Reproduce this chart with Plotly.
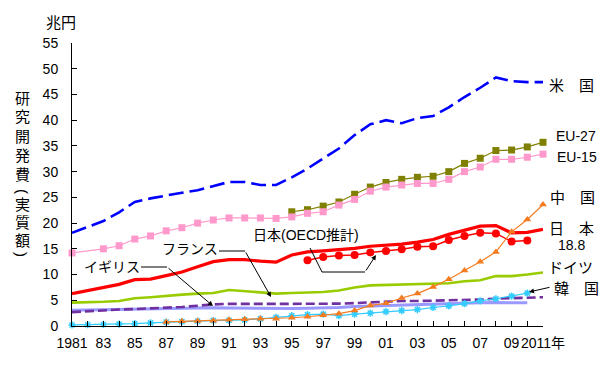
import plotly.graph_objects as go

years = list(range(1981, 2012))

us = [18.1, 19.2, 20.4, 22.1, 24.1, 24.8, 25.4, 25.9, 26.4, 27.2, 28.0, 28.0, 27.4, 27.4, 28.9,
      30.6, 32.6, 34.5, 37.1, 39.2, 40.0, 39.4, 40.4, 40.8, 42.5, 44.5, 46.3, 48.3, 47.6, 47.4, 47.4]

eu27_years = list(range(1995, 2012))
eu27 = [22.2, 22.6, 23.3, 24.1, 25.6, 27.0, 27.9, 28.5, 28.9, 29.1, 30.0, 31.6, 32.6, 34.1, 34.2, 34.8, 35.7]

eu15 = [14.2, None, 15.0, 15.6, 16.9, 17.5, 18.5, 19.1, 20.0, 20.6, 21.0, 21.0, 21.0, 20.9, 21.2,
        21.9, 22.2, 23.5, 24.6, 26.2, 27.0, 27.4, 27.7, 27.7, 28.5, 30.0, 30.9, 32.4, 32.4, 32.8, 33.4]

japan = [6.3, 6.9, 7.5, 8.1, 9.0, 9.1, 9.8, 10.5, 11.5, 12.5, 12.9, 12.9, 12.6, 12.4, 13.8,
         14.4, 14.6, 14.8, 15.1, 15.5, 15.7, 15.9, 16.3, 16.8, 17.8, 18.6, 19.4, 19.5, 18.1, 18.2, 18.8]

japan_oecd_years = list(range(1996, 2011))
japan_oecd = [12.8, 13.4, 13.7, 13.8, 14.3, 14.6, 14.9, 15.4, 15.5, 16.7, 17.5, 18.1, 18.0, 16.4, 16.6]

china_years = list(range(1987, 2012))
china = [0.8, 0.9, 0.95, 1.0, 1.2, 1.3, 1.4, 1.4, 1.6, 1.8, 2.1, 2.4, 3.0, 4.0, 4.4,
         5.45, 6.3, 7.6, 9.1, 10.8, 12.5, 14.4, 18.3, 20.7, 23.6]

germany = [4.55, 4.6, 4.7, 4.85, 5.4, 5.6, 5.9, 6.1, 6.3, 6.4, 7.0, 6.8, 6.5, 6.3, 6.4,
           6.5, 6.6, 6.9, 7.5, 7.9, 8.0, 8.1, 8.2, 8.2, 8.3, 8.7, 8.9, 9.7, 9.7, 10.0, 10.4]

france = [2.7, 2.9, 3.0, 3.2, 3.3, 3.4, 3.55, 3.7, 3.95, 4.2, 4.3, 4.35, 4.35, 4.3, 4.3,
          4.3, 4.3, 4.35, 4.45, 4.6, 4.75, 4.85, 4.85, 4.9, 4.95, 5.05, 5.15, 5.3, 5.4, 5.45, 5.6]

uk_years = list(range(1981, 2011))
uk = [3.05, 3.1, 3.15, 3.2, 3.3, 3.4, 3.45, 3.5, 3.55, 3.55, 3.5, 3.45, 3.4, 3.4, 3.4,
      3.45, 3.5, 3.6, 3.8, 3.9, 4.0, 4.1, 4.15, 4.2, 4.3, 4.4, 4.5, 4.55, 4.55, 4.5]

korea_years = list(range(1981, 2011))
korea = [0.2, 0.25, 0.3, 0.35, 0.45, 0.6, 0.75, 0.85, 0.95, 1.05, 1.1, 1.2, 1.4, 1.7, 2.0,
         2.2, 2.3, 2.0, 2.3, 2.5, 2.8, 3.0, 3.2, 3.6, 3.9, 4.35, 4.9, 5.3, 5.8, 6.4]

tick_text = [str(y)[2:] if y % 2 == 1 else "" for y in years]
tick_text[0] = "1981"
tick_text[-1] = "2011年"

FONT = "Liberation Sans, Arial, Noto Sans CJK JP, sans-serif"

fig = go.Figure()

def line(x, y, color, width, dash="solid", marker=None):
    kw = dict(x=x, y=y, mode="lines", line=dict(color=color, width=width, dash=dash),
              connectgaps=True, cliponaxis=False, hoverinfo="skip")
    if marker:
        kw["mode"] = "lines+markers"
        kw["marker"] = marker
    fig.add_trace(go.Scatter(**kw))

line(years, us, "#0000FF", 2.6, dash="15px,6px")
line(eu27_years, eu27, "#808000", 1.2, marker=dict(symbol="square", size=7, color="#808000"))
line(years, eu15, "#FF99CC", 1.2, marker=dict(symbol="square", size=7, color="#FF99CC"))
line(years, germany, "#99CC00", 2.6)
line(uk_years, uk, "#9999FF", 3)
line(years, france, "#7030A0", 2.6, dash="9px,4px")
line(years, japan, "#FF0000", 3.2)
line(japan_oecd_years, japan_oecd, "#FF0000", 1.5, marker=dict(symbol="circle", size=8, color="#FF0000"))
line(korea_years, korea, "#33CCFF", 1.2,
     marker=dict(symbol="asterisk-open", size=6, color="#33CCFF", line=dict(color="#33CCFF", width=1.5)))
line(china_years, china, "#F47B20", 1.2, marker=dict(symbol="triangle-up", size=7, color="#F47B20"))

L, T, W, H = 72, 43, 471, 283

def P(x, y):
    return (x - L) / W, (T + H - y) / H

annos = []

def text(s, x, y, size=14, xanchor="center", angle=0):
    px, py = P(x, y)
    annos.append(dict(text=s, x=px, y=py, xref="paper", yref="paper", showarrow=False,
                      xanchor=xanchor, yanchor="middle", textangle=angle,
                      font=dict(size=size, color="black")))

def arrow(x0, y0, x1, y1):
    px, py = P(x1, y1)
    annos.append(dict(text="", x=px, y=py, xref="paper", yref="paper", showarrow=True,
                      ax=x0 - x1, ay=y0 - y1, axref="pixel", ayref="pixel",
                      arrowhead=2, arrowsize=1, arrowwidth=1, arrowcolor="black", standoff=0))

shapes = []

def path(points):
    pts = [P(x, y) for x, y in points]
    d = "M " + " L ".join(f"{a},{b}" for a, b in pts)
    shapes.append(dict(type="path", path=d, xref="paper", yref="paper",
                       line=dict(color="black", width=1)))

text("兆円", 61, 23, 15)
ytitle = [("研", 98, 0), ("究", 117, 0), ("開", 136, 0), ("発", 155, 0), ("費", 174, 0),
          ("(", 191, 90), ("実", 204, 0), ("質", 222, 0), ("額", 240, 0), (")", 254, 90)]
for ch, yy, ang in ytitle:
    text(ch, 22, yy, 15, angle=ang)

text("米　国", 571, 85, 15)
text("EU-27", 576, 136, 14)
text("EU-15", 577, 157, 14)
text("中　国", 572, 197, 15)
text("日　本", 571, 228, 15)
text("18.8", 571, 245, 14)
text("ドイツ", 570, 267, 15)
text("韓　国", 576, 288, 15)
text("日本(OECD推計)", 306, 235, 14)
text("フランス", 190, 249, 14)
text("イギリス", 112, 267, 14)

path([(141, 267), (167, 267)])
arrow(167, 267, 213, 306)
path([(219, 251), (245, 251)])
arrow(245, 251, 271, 297)
path([(310, 248), (322, 272), (365, 272)])
arrow(365, 272, 376, 255)
arrow(551, 287, 529, 292)

fig.update_layout(
    width=600, height=370,
    margin=dict(l=L, r=600 - L - W, t=T, b=370 - T - H, autoexpand=False),
    paper_bgcolor="white", plot_bgcolor="white",
    showlegend=False,
    font=dict(family=FONT, size=14, color="black"),
    annotations=annos, shapes=shapes,
    xaxis=dict(range=[1981, 2011], tickvals=years, ticktext=tick_text, ticks="inside", ticklen=5,
               tickcolor="black", showline=True, linecolor="black", linewidth=1, tickangle=0,
               showgrid=False, zeroline=False, tickfont=dict(size=14), ticklabelstandoff=4,
               automargin=False),
    yaxis=dict(range=[0, 55], dtick=5, ticks="inside", ticklen=5, tickcolor="black",
               showline=True, linecolor="black", linewidth=1, showgrid=False, zeroline=False,
               tickfont=dict(size=14), ticklabelstandoff=10, automargin=False),
)

fig.write_html("out.html", config=dict(responsive=False, displayModeBar=False),
               post_script="document.body.style.margin='0';document.body.style.padding='0';"
                           "document.body.style.overflow='hidden';")
